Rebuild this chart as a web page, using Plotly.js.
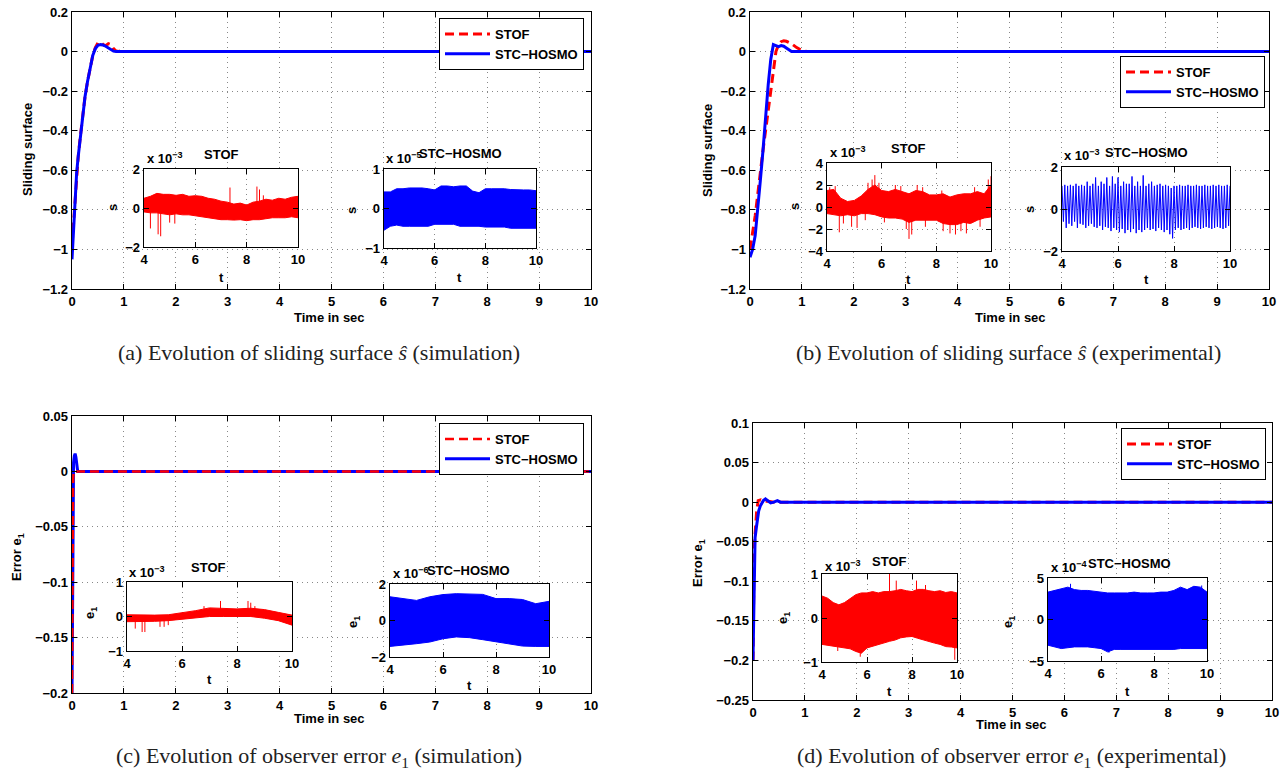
<!DOCTYPE html>
<html>
<head>
<meta charset="utf-8">
<script src="https://cdn.plot.ly/plotly-3.0.1.min.js"></script>
<style>
  html, body { margin: 0; padding: 0; background: #fff; }
  #chart { width: 1284px; height: 771px; }
</style>
</head>
<body>
<div id="chart"></div>
<script>
// ---------- Main responses (time in s) ----------
// (a) sliding surface, simulation
const aTimeRed  = [0, 0.03, 0.06, 0.09, 0.12, 0.16, 0.2, 0.25, 0.3, 0.35, 0.4, 0.45, 0.5, 0.55, 0.6, 0.65, 0.7, 0.75, 0.8, 0.85, 0.9, 0.95, 1.0, 10];
const aRed      = [-0.98, -0.86, -0.73, -0.62, -0.53, -0.43, -0.34, -0.23, -0.15, -0.08, -0.02, 0.02, 0.045, 0.048, 0.035, 0.03, 0.04, 0.035, 0.015, 0.003, 0, 0.004, 0, 0];
const aTimeBlue = [0, 0.03, 0.06, 0.09, 0.12, 0.16, 0.2, 0.25, 0.3, 0.35, 0.4, 0.45, 0.5, 0.55, 0.6, 0.65, 0.7, 0.75, 0.8, 0.85, 10];
const aBlue     = [-1.05, -0.88, -0.74, -0.61, -0.53, -0.43, -0.34, -0.23, -0.15, -0.08, -0.02, 0.015, 0.032, 0.035, 0.033, 0.027, 0.018, 0.009, 0.002, 0, 0];

// (b) sliding surface, experimental
const bTimeRed  = [0, 0.05, 0.1, 0.15, 0.2, 0.25, 0.3, 0.35, 0.4, 0.45, 0.5, 0.55, 0.6, 0.65, 0.7, 0.8, 0.9, 1.0, 1.1, 10];
const bRed      = [-1.0, -0.92, -0.83, -0.72, -0.6, -0.5, -0.4, -0.3, -0.22, -0.1, 0.0, 0.035, 0.05, 0.055, 0.052, 0.04, 0.02, 0.005, 0, 0];
const bTimeBlue = [0, 0.05, 0.1, 0.15, 0.2, 0.25, 0.3, 0.35, 0.4, 0.45, 0.5, 0.55, 0.6, 0.65, 0.7, 0.75, 0.8, 10];
const bBlue     = [-1.04, -1.0, -0.93, -0.8, -0.65, -0.5, -0.33, -0.17, -0.04, 0.035, 0.03, 0.025, 0.03, 0.027, 0.018, 0.008, 0, 0];

// (c) observer error e1, simulation
const cTimeRed  = [0, 0.005, 0.01, 0.02, 0.03, 10];
const cRed      = [-0.2, -0.13, -0.06, -0.01, 0, 0];
const cTimeBlue = [0, 0.005, 0.01, 0.015, 0.02, 0.03, 0.045, 0.06, 0.075, 0.09, 0.11, 10];
const cBlue     = [-0.2, -0.14, -0.07, -0.02, 0.0, 0.008, 0.014, 0.016, 0.013, 0.006, 0, 0];

// (d) observer error e1, experimental
const dTimeRed  = [0, 0.01, 0.02, 0.035, 0.05, 0.07, 0.1, 0.15, 0.2, 0.3, 0.4, 10];
const dRed      = [-0.2, -0.12, -0.07, -0.045, -0.03, -0.012, 0.002, 0.003, 0.001, 0.001, 0, 0];
const dTimeBlue = [0, 0.01, 0.02, 0.025, 0.04, 0.065, 0.09, 0.11, 0.14, 0.17, 0.2, 0.24, 0.28, 0.34, 0.4, 0.47, 0.53, 0.6, 10];
const dBlue     = [-0.2, -0.14, -0.085, -0.062, -0.045, -0.032, -0.02, -0.011, -0.005, -0.001, 0.002, 0.004, 0.002, -0.001, 0.0, 0.002, 0.0, 0, 0];

// ---------- Zoomed steady-state windows, t = 4..10 s ----------
const grid25 = [4, 4.25, 4.5, 4.75, 5, 5.25, 5.5, 5.75, 6, 6.25, 6.5, 6.75, 7, 7.25, 7.5, 7.75, 8, 8.25, 8.5, 8.75, 9, 9.25, 9.5, 9.75, 10];
const grid50 = [4, 4.5, 5, 5.5, 6, 6.5, 7, 7.5, 8, 8.5, 9, 9.5, 10];

// (a) STOF, s x 1e-3: band envelope and isolated spikes
const aStofHi = [0.5, 0.6, 0.75, 0.7, 0.7, 0.65, 0.7, 0.6, 0.63, 0.6, 0.5, 0.45, 0.35, 0.3, 0.2, 0.25, 0.15, 0.3, 0.35, 0.45, 0.4, 0.5, 0.45, 0.55, 0.6];
const aStofLo = [-0.2, -0.25, -0.25, -0.3, -0.35, -0.3, -0.35, -0.35, -0.4, -0.45, -0.5, -0.55, -0.6, -0.6, -0.62, -0.6, -0.65, -0.6, -0.6, -0.55, -0.5, -0.5, -0.5, -0.45, -0.5];
const aStofSpikeT = [4.25, 4.55, 4.65, 5.0, 5.2, 7.35, 8.4, 8.5, 8.65];
const aStofSpikeV = [-1.05, -1.35, -1.45, -0.75, -0.8, 1.05, 1.1, 0.95, 0.65];

// (a) STC-HOSMO, s x 1e-5
const aStcHi = [0.42, 0.42, 0.5, 0.5, 0.52, 0.52, 0.52, 0.5, 0.47, 0.57, 0.57, 0.55, 0.57, 0.57, 0.44, 0.4, 0.5, 0.5, 0.5, 0.5, 0.48, 0.47, 0.47, 0.47, 0.45];
const aStcLo = [-0.55, -0.45, -0.42, -0.45, -0.45, -0.45, -0.45, -0.45, -0.4, -0.4, -0.4, -0.4, -0.45, -0.45, -0.45, -0.45, -0.47, -0.47, -0.47, -0.47, -0.5, -0.5, -0.5, -0.5, -0.5];

// (b) STOF, s x 1e-3: dense core plus the many excursions around it
const bStofHi = [1.5, 1.6, 0.8, 0.5, 0.6, 1.0, 1.6, 2.0, 1.5, 1.4, 1.6, 1.4, 1.2, 1.5, 1.4, 1.1, 1.1, 1.2, 0.9, 1.1, 1.2, 1.2, 1.4, 1.2, 2.0];
const bStofLo = [-0.6, -0.7, -0.8, -0.7, -0.8, -0.6, -0.6, -0.7, -0.9, -1.0, -1.0, -1.1, -1.4, -1.2, -1.2, -1.2, -1.2, -1.5, -1.6, -1.6, -1.4, -1.5, -1.2, -1.0, -0.9];
const bStofSpikeT = [4.1, 4.3, 4.45, 4.6, 4.9, 5.1, 5.4, 5.5, 5.65, 5.75, 5.9, 6.1, 6.5, 6.7, 6.9, 7.0, 7.1, 7.3, 7.5, 7.6, 8.2, 8.25, 8.5, 8.7, 8.9, 9.1, 9.4, 9.6, 9.9, 10.0];
const bStofSpikeV = [1.8, 1.9, -2.3, -1.5, -1.8, -1.9, -1.2, 2.2, 2.5, 2.9, 2.2, -1.4, 2.0, 1.9, -2.0, -2.9, -2.5, 2.0, 1.8, -1.8, 1.5, -2.2, -2.4, -2.5, -2.2, -2.4, 1.8, -1.8, 2.5, 2.8];

// (b) STC-HOSMO, s x 1e-3: successive peaks (every 0.1 s from 4 s) and troughs between them
const bStcPeaks = [
  1.1, 1.15, 1.1, 1.15, 1.1, 1.2, 1.1, 1.15, 1.1, 1.3,
  1.1, 1.2, 1.5, 1.1, 1.3, 1.2, 1.5, 1.1, 1.55, 1.2,
  1.5, 1.1, 1.3, 1.2, 1.2, 1.55, 1.1, 1.3, 1.1, 1.6,
  1.1, 1.2, 1.3, 1.1, 1.15, 1.2, 1.1, 1.15, 1.1, 1.0,
  1.1, 1.1, 1.15, 1.1, 1.1, 1.15, 1.1, 1.1, 1.15, 1.1,
  1.1, 1.15, 1.1, 1.1, 1.15, 1.1, 1.15, 1.1, 1.1, 1.15, 1.1
];
const bStcTroughs = [
  -0.6, -0.9, -0.7, -0.8, -0.6, -0.9, -0.7, -0.75, -0.9, -0.8,
  -0.7, -0.85, -0.9, -0.8, -1.0, -0.85, -0.9, -1.05, -0.9, -1.0,
  -1.1, -0.95, -1.15, -1.0, -1.1, -0.95, -1.15, -1.0, -1.1, -1.0,
  -0.9, -1.0, -0.95, -1.05, -0.9, -1.0, -1.1, -1.0, -1.2, -1.4,
  -1.0, -0.9, -1.0, -0.95, -0.9, -1.0, -0.9, -0.85, -0.9, -0.95,
  -0.9, -0.85, -0.9, -0.95, -0.9, -0.85, -0.9, -0.95, -0.9, -0.8
];

// (c) STOF, e1 x 1e-3
const cStofHi = [0.05, 0.04, 0.04, 0.05, 0.1, 0.17, 0.25, 0.24, 0.22, 0.24, 0.2, 0.12, 0.04];
const cStofLo = [-0.15, -0.15, -0.14, -0.12, -0.08, -0.03, 0.0, 0.0, -0.01, 0.0, -0.05, -0.12, -0.25];
const cStofSpikeT = [4.3, 4.55, 4.65, 5.2, 5.35, 5.5, 6.8, 7.4, 8.4, 8.5, 8.65];
const cStofSpikeV = [-0.35, -0.45, -0.45, -0.3, -0.3, -0.25, 0.3, 0.45, 0.45, 0.4, 0.3];

// (c) STC-HOSMO, e1 x 1e-6
const cStcHi = [1.3, 1.2, 1.1, 1.3, 1.42, 1.47, 1.47, 1.43, 1.2, 1.2, 1.15, 0.92, 1.05];
const cStcLo = [-1.42, -1.36, -1.27, -1.18, -1.0, -0.9, -0.94, -1.05, -1.18, -1.3, -1.4, -1.42, -1.42];

// (d) STOF, e1 x 1e-3
const dStofHi = [0.5, 0.45, 0.35, 0.3, 0.35, 0.45, 0.53, 0.57, 0.57, 0.6, 0.57, 0.6, 0.6, 0.62, 0.65, 0.62, 0.6, 0.65, 0.65, 0.62, 0.6, 0.62, 0.58, 0.6, 0.57];
const dStofLo = [-0.6, -0.62, -0.65, -0.66, -0.68, -0.7, -0.76, -0.8, -0.68, -0.64, -0.6, -0.56, -0.53, -0.5, -0.45, -0.43, -0.42, -0.46, -0.5, -0.54, -0.57, -0.6, -0.65, -0.66, -0.68];
const dStofSpikeT = [4.7, 5.7, 7.0, 7.3, 8.2, 8.6, 9.9];
const dStofSpikeV = [-0.75, -0.88, 1.0, 0.85, 0.85, 0.75, -0.95];

// (d) STC-HOSMO, e1 x 1e-4
const dStcHi = [3.3, 3.5, 3.7, 3.9, 3.6, 3.5, 3.5, 3.4, 3.3, 3.2, 3.2, 3.2, 3.2, 3.3, 3.2, 3.2, 3.2, 3.3, 3.3, 3.5, 3.9, 3.6, 4.0, 3.9, 3.3];
const dStcLo = [-3.1, -3.3, -3.5, -3.4, -3.3, -3.3, -3.3, -3.4, -3.5, -3.9, -3.6, -3.6, -3.6, -3.6, -3.6, -3.6, -3.6, -3.6, -3.6, -3.6, -3.5, -3.5, -3.5, -3.5, -3.5];
const dStcSpikeT = [4.85, 6.3, 9.8];
const dStcSpikeV = [4.3, -4.0, 4.1];

// ---------- Drawing ----------
const W = 1284, H = 771;
const SANS = 'Liberation Sans';
const SERIF = 'Liberation Serif';
const RED = '#ff0000', BLUE = '#0000ff';
const px = v => v / W;
const py = v => 1 - v / H;
const boldFont = () => ({family: SANS, size: 13, color: '#000', weight: 'bold'});

const layout = {
  width: W, height: H,
  margin: {l: 0, r: 0, t: 0, b: 0},
  paper_bgcolor: '#fff', plot_bgcolor: '#fff',
  font: boldFont(),
  showlegend: true,
  annotations: []
};
const traces = [];

function axisStyle(extra) {
  return Object.assign({
    showline: true, linecolor: '#000', linewidth: 1.3, mirror: 'ticks',
    ticks: 'inside', ticklen: 5, tickwidth: 1, tickcolor: '#000',
    showgrid: true, gridcolor: '#888', gridwidth: 1, griddash: '1px,4px',
    zeroline: false, fixedrange: true,
    tickfont: boldFont()
  }, extra);
}

function addAxes(n, xPix, yPix, xr, xd, yr, yd) {
  const sx = n === 1 ? '' : String(n);
  layout['xaxis' + sx] = axisStyle({
    domain: [px(xPix[0]), px(xPix[1])], range: xr, tick0: xr[0], dtick: xd, anchor: 'y' + sx
  });
  layout['yaxis' + sx] = axisStyle({
    domain: [py(yPix[1]), py(yPix[0])], range: yr, tick0: 0, dtick: yd, anchor: 'x' + sx
  });
  return {xaxis: 'x' + sx, yaxis: 'y' + sx};
}

function label(x, y, text, opts) {
  layout.annotations.push(Object.assign({
    xref: 'paper', yref: 'paper', x: px(x), y: py(y), text: text, showarrow: false,
    xanchor: 'center', yanchor: 'middle',
    font: boldFont()
  }, opts || {}));
}

// Main panels; in (c) the dashed STOF trace lies over the solid one
const mains = [
  {n: 1, x: [72, 591],   y: [12, 289],  yr: [-1.2, 0.2],  yd: 0.2,  leg: 'legend',  red: [aTimeRed, aRed], blue: [aTimeBlue, aBlue], redOnTop: false},
  {n: 2, x: [750, 1269], y: [12, 289],  yr: [-1.2, 0.2],  yd: 0.2,  leg: 'legend2', red: [bTimeRed, bRed], blue: [bTimeBlue, bBlue], redOnTop: false},
  {n: 3, x: [72, 591],   y: [416, 693], yr: [-0.2, 0.05], yd: 0.05, leg: 'legend3', red: [cTimeRed, cRed], blue: [cTimeBlue, cBlue], redOnTop: true},
  {n: 4, x: [753, 1272], y: [423, 700], yr: [-0.25, 0.1], yd: 0.05, leg: 'legend4', red: [dTimeRed, dRed], blue: [dTimeBlue, dBlue], redOnTop: false}
];
mains.forEach(p => {
  const ax = addAxes(p.n, p.x, p.y, [0, 10], 1, p.yr, p.yd);
  const red = Object.assign({
    x: p.red[0], y: p.red[1], mode: 'lines', name: 'STOF', legend: p.leg, legendrank: 1,
    line: {color: RED, width: p.redOnTop ? 2.5 : 3, dash: '9px,5px'}, hoverinfo: 'skip'
  }, ax);
  const blue = Object.assign({
    x: p.blue[0], y: p.blue[1], mode: 'lines', name: 'STC\u2212HOSMO', legend: p.leg, legendrank: 2,
    line: {color: BLUE, width: 3}, hoverinfo: 'skip'
  }, ax);
  if (p.redOnTop) traces.push(blue, red); else traces.push(red, blue);
});

function legendBox(xRight, yTop) {
  return {
    x: px(xRight), y: py(yTop), xanchor: 'right', yanchor: 'top',
    bgcolor: '#fff', bordercolor: '#000', borderwidth: 1,
    font: boldFont(),
    traceorder: 'normal', tracegroupgap: 0, itemwidth: 45
  };
}
layout.legend  = legendBox(584, 18);
layout.legend2 = legendBox(1265, 56);
layout.legend3 = legendBox(584, 423);
layout.legend4 = legendBox(1266, 428);

// Inset windows
function band(ax, t, lo, hi, color) {
  traces.push(Object.assign({x: t, y: lo, mode: 'lines', line: {color: color, width: 1},
    showlegend: false, hoverinfo: 'skip'}, ax));
  traces.push(Object.assign({x: t, y: hi, mode: 'lines', fill: 'tonexty', fillcolor: color,
    line: {color: color, width: 1}, showlegend: false, hoverinfo: 'skip'}, ax));
}
function spikes(ax, st, sv, color) {
  const x = [], y = [];
  st.forEach((tt, i) => { x.push(tt, tt, null); y.push(0, sv[i], null); });
  traces.push(Object.assign({x: x, y: y, mode: 'lines', line: {color: color, width: 1},
    showlegend: false, hoverinfo: 'skip'}, ax));
}

const aInS = addAxes(5, [144, 298], [169, 247], [4, 10], 2, [-2, 2], 2);
band(aInS, grid25, aStofLo, aStofHi, RED);
spikes(aInS, aStofSpikeT, aStofSpikeV, RED);

const aInC = addAxes(6, [384, 536], [169, 248], [4, 10], 2, [-1, 1], 1);
band(aInC, grid25, aStcLo, aStcHi, BLUE);

const bInS = addAxes(7, [827, 991], [163, 251], [4, 10], 2, [-4, 4], 2);
band(bInS, grid25, bStofLo, bStofHi, RED);
spikes(bInS, bStofSpikeT, bStofSpikeV, RED);

const bInC = addAxes(8, [1062, 1230], [167, 251], [4, 10], 2, [-2, 2], 2);
(function () {
  const x = [], y = [];
  bStcPeaks.forEach((v, i) => {
    x.push(4 + 0.1 * i); y.push(v);
    if (i < bStcTroughs.length) { x.push(4.05 + 0.1 * i); y.push(bStcTroughs[i]); }
  });
  traces.push(Object.assign({x: x, y: y, mode: 'lines', line: {color: BLUE, width: 1},
    showlegend: false, hoverinfo: 'skip'}, bInC));
})();

const cInS = addAxes(9, [127, 292], [582, 651], [4, 10], 2, [-1, 1], 1);
band(cInS, grid50, cStofLo, cStofHi, RED);
spikes(cInS, cStofSpikeT, cStofSpikeV, RED);

const cInC = addAxes(10, [390, 549], [584, 657], [4, 10], 2, [-2, 2], 2);
band(cInC, grid50, cStcLo, cStcHi, BLUE);

const dInS = addAxes(11, [822, 957], [574, 662], [4, 10], 2, [-1, 1], 1);
band(dInS, grid25, dStofLo, dStofHi, RED);
spikes(dInS, dStofSpikeT, dStofSpikeV, RED);

const dInC = addAxes(12, [1048, 1207], [578, 661], [4, 10], 2, [-5, 5], 5);
band(dInC, grid25, dStcLo, dStcHi, BLUE);
spikes(dInC, dStcSpikeT, dStcSpikeV, BLUE);

// Axis titles of the main panels
label(330, 317, 'Time in sec');
label(1010, 317, 'Time in sec');
label(330, 718, 'Time in sec');
label(1011, 724, 'Time in sec');
label(28, 150, 'Sliding surface', {textangle: -90});
label(708, 150, 'Sliding surface', {textangle: -90});
label(17, 557, 'Error e<sub>1</sub>', {textangle: -90});
label(698, 563, 'Error e<sub>1</sub>', {textangle: -90});

// Inset titles, scale factors and axis names
const insetText = [
  {title: 'STOF',          tx: 221,  ty: 155, ex: 145,  ey: 158, exp: '\u22123', yl: 's', ylx: 113, yly: 208, tlx: 221,  tly: 277},
  {title: 'STC\u2212HOSMO', tx: 460,  ty: 154, ex: 384,  ey: 158, exp: '\u22125', yl: 's', ylx: 352, yly: 210, tlx: 459,  tly: 277},
  {title: 'STOF',          tx: 908,  ty: 148, ex: 828,  ey: 152, exp: '\u22123', yl: 's', ylx: 795, yly: 207, tlx: 908,  tly: 279},
  {title: 'STC\u2212HOSMO', tx: 1146, ty: 153, ex: 1062, ey: 155, exp: '\u22123', yl: 's', ylx: 1030, yly: 210, tlx: 1146, tly: 279},
  {title: 'STOF',          tx: 208,  ty: 567, ex: 127,  ey: 572, exp: '\u22123', yl: 'e<sub>1</sub>', ylx: 90,  yly: 613, tlx: 209,  tly: 679},
  {title: 'STC\u2212HOSMO', tx: 468,  ty: 570, ex: 391,  ey: 573, exp: '\u22126', yl: 'e<sub>1</sub>', ylx: 353, yly: 622, tlx: 469,  tly: 685},
  {title: 'STOF',          tx: 889,  ty: 561, ex: 823,  ey: 566, exp: '\u22123', yl: 'e<sub>1</sub>', ylx: 783, yly: 618, tlx: 889,  tly: 691},
  {title: 'STC\u2212HOSMO', tx: 1129, ty: 563, ex: 1049, ey: 567, exp: '\u22124', yl: 'e<sub>1</sub>', ylx: 1008, yly: 622, tlx: 1127, tly: 691}
];
insetText.forEach(s => {
  label(s.tx, s.ty, s.title);
  label(s.ex, s.ey, 'x 10<sup>' + s.exp + '</sup>', {xanchor: 'left'});
  label(s.ylx, s.yly, s.yl, {textangle: -90});
  label(s.tlx, s.tly, 't');
});

// Sub-figure captions
const capFont = {family: SERIF, size: 22, color: '#222', weight: 'normal'};
label(319, 353, '(a) Evolution of sliding surface <i>\u015d</i> (simulation)', {font: capFont});
label(1008, 353, '(b) Evolution of sliding surface <i>\u015d</i> (experimental)', {font: capFont});
label(319, 757, '(c) Evolution of observer error <i>e</i><sub>1</sub> (simulation)', {font: capFont});
label(1011, 757, '(d) Evolution of observer error <i>e</i><sub>1</sub> (experimental)', {font: capFont});

Plotly.newPlot('chart', traces, layout, {staticPlot: true, displayModeBar: false});
</script>
</body>
</html>
